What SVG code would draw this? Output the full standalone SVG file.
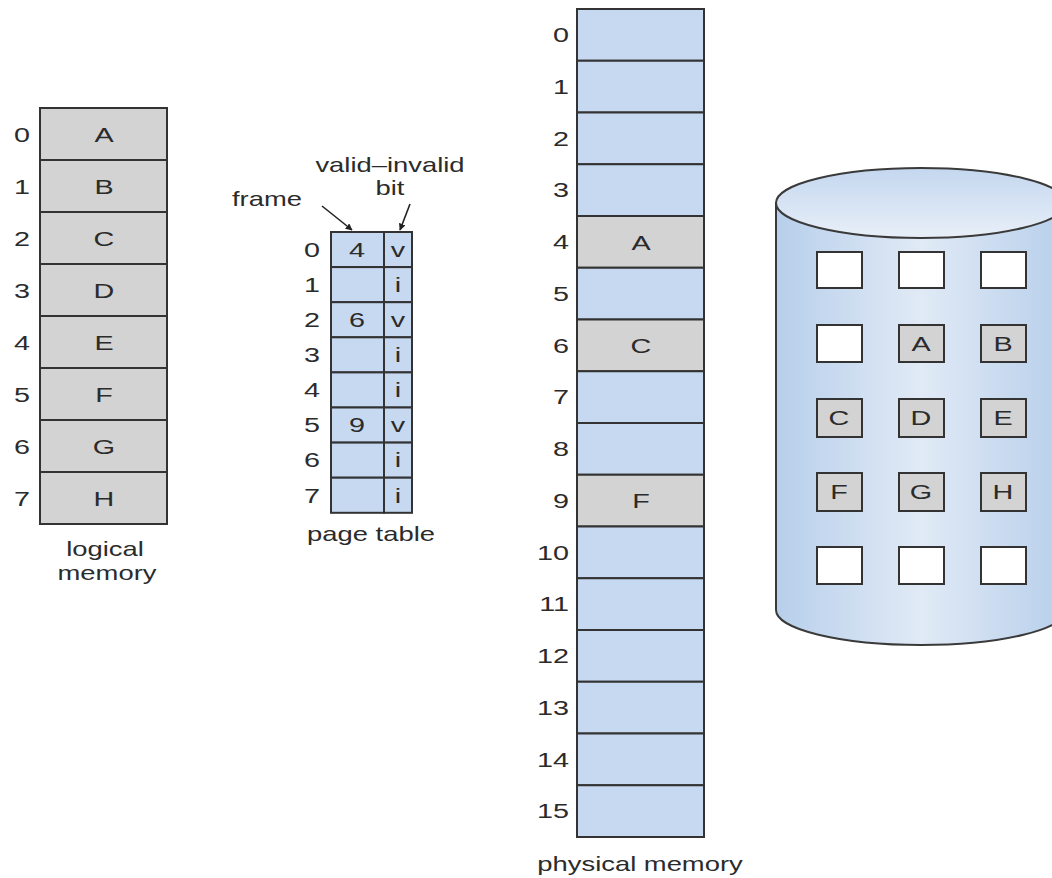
<svg xmlns="http://www.w3.org/2000/svg" width="1052" height="878" viewBox="0 0 1052 878">
<defs>
<style>
text{font-family:"Liberation Sans",Arial,sans-serif;fill:#2b2b2b;}
.lbl{font-size:21px;text-anchor:middle;}
.num{font-size:21px;text-anchor:middle;}
.numr{font-size:21px;text-anchor:end;}
.cap{font-size:20px;text-anchor:middle;}
.g{fill:#d3d3d3;stroke:#333;stroke-width:2;}
.b{fill:#c6d9f0;stroke:#333;stroke-width:2;}
.w{fill:#ffffff;stroke:#333;stroke-width:2;}
.sq{stroke:#333;stroke-width:2;}
.conn{stroke:#222;stroke-width:1.6;fill:none;marker-end:url(#ah);}
</style>
<marker id="ah" viewBox="0 0 10 10" refX="9" refY="5" markerWidth="7" markerHeight="7" orient="auto" markerUnits="userSpaceOnUse">
<path d="M0,0 L10,5 L0,10 Z" fill="#222"/>
</marker>
<linearGradient id="body" x1="0" y1="0" x2="1" y2="0">
<stop offset="0" stop-color="#b7cfeb"/>
<stop offset="0.5" stop-color="#e1eaf6"/>
<stop offset="1" stop-color="#b7cfeb"/>
</linearGradient>
<linearGradient id="top" x1="0" y1="0" x2="0" y2="1">
<stop offset="0" stop-color="#c4d7ef"/>
<stop offset="1" stop-color="#e8eff8"/>
</linearGradient>
</defs>
<rect width="1052" height="878" fill="#ffffff"/>

<g id="logical-memory">
<rect class="g" x="40" y="108" width="127" height="52"/>
<rect class="g" x="40" y="160" width="127" height="52"/>
<rect class="g" x="40" y="212" width="127" height="52"/>
<rect class="g" x="40" y="264" width="127" height="52"/>
<rect class="g" x="40" y="316" width="127" height="52"/>
<rect class="g" x="40" y="368" width="127" height="52"/>
<rect class="g" x="40" y="420" width="127" height="52"/>
<rect class="g" x="40" y="472" width="127" height="52"/>
<text class="lbl" transform="translate(104,142) scale(1.37,1)">A</text>
<text class="lbl" transform="translate(104,194) scale(1.37,1)">B</text>
<text class="lbl" transform="translate(104,246) scale(1.37,1)">C</text>
<text class="lbl" transform="translate(104,298) scale(1.37,1)">D</text>
<text class="lbl" transform="translate(104,350) scale(1.37,1)">E</text>
<text class="lbl" transform="translate(104,402) scale(1.37,1)">F</text>
<text class="lbl" transform="translate(104,454) scale(1.37,1)">G</text>
<text class="lbl" transform="translate(104,506) scale(1.37,1)">H</text>
<text class="num" transform="translate(22,142) scale(1.37,1)">0</text>
<text class="num" transform="translate(22,194) scale(1.37,1)">1</text>
<text class="num" transform="translate(22,246) scale(1.37,1)">2</text>
<text class="num" transform="translate(22,298) scale(1.37,1)">3</text>
<text class="num" transform="translate(22,350) scale(1.37,1)">4</text>
<text class="num" transform="translate(22,402) scale(1.37,1)">5</text>
<text class="num" transform="translate(22,454) scale(1.37,1)">6</text>
<text class="num" transform="translate(22,506) scale(1.37,1)">7</text>
<text class="cap" transform="translate(105,556) scale(1.37,1)">logical</text>
<text class="cap" transform="translate(107,580) scale(1.37,1)">memory</text>
</g>

<g id="page-table">
<rect class="b" x="331" y="232" width="53" height="35.1"/>
<rect class="b" x="384" y="232" width="28" height="35.1"/>
<rect class="b" x="331" y="267.1" width="53" height="35.1"/>
<rect class="b" x="384" y="267.1" width="28" height="35.1"/>
<rect class="b" x="331" y="302.2" width="53" height="35.1"/>
<rect class="b" x="384" y="302.2" width="28" height="35.1"/>
<rect class="b" x="331" y="337.3" width="53" height="35.1"/>
<rect class="b" x="384" y="337.3" width="28" height="35.1"/>
<rect class="b" x="331" y="372.4" width="53" height="35.1"/>
<rect class="b" x="384" y="372.4" width="28" height="35.1"/>
<rect class="b" x="331" y="407.5" width="53" height="35.1"/>
<rect class="b" x="384" y="407.5" width="28" height="35.1"/>
<rect class="b" x="331" y="442.6" width="53" height="35.1"/>
<rect class="b" x="384" y="442.6" width="28" height="35.1"/>
<rect class="b" x="331" y="477.7" width="53" height="35.1"/>
<rect class="b" x="384" y="477.7" width="28" height="35.1"/>
<text class="num" transform="translate(312,257) scale(1.37,1)">0</text>
<text class="num" transform="translate(312,292) scale(1.37,1)">1</text>
<text class="num" transform="translate(312,327) scale(1.37,1)">2</text>
<text class="num" transform="translate(312,362) scale(1.37,1)">3</text>
<text class="num" transform="translate(312,397) scale(1.37,1)">4</text>
<text class="num" transform="translate(312,432) scale(1.37,1)">5</text>
<text class="num" transform="translate(312,467) scale(1.37,1)">6</text>
<text class="num" transform="translate(312,503) scale(1.37,1)">7</text>
<text class="num" transform="translate(357,257) scale(1.37,1)">4</text>
<text class="num" transform="translate(357,327) scale(1.37,1)">6</text>
<text class="num" transform="translate(357,432) scale(1.37,1)">9</text>
<text class="num" transform="translate(398,257) scale(1.37,1)">v</text>
<text class="num" transform="translate(398,292) scale(1.37,1)">i</text>
<text class="num" transform="translate(398,327) scale(1.37,1)">v</text>
<text class="num" transform="translate(398,362) scale(1.37,1)">i</text>
<text class="num" transform="translate(398,397) scale(1.37,1)">i</text>
<text class="num" transform="translate(398,432) scale(1.37,1)">v</text>
<text class="num" transform="translate(398,467) scale(1.37,1)">i</text>
<text class="num" transform="translate(398,503) scale(1.37,1)">i</text>
<text class="cap" transform="translate(371,541) scale(1.37,1)">page table</text>
<text class="cap" transform="translate(267,206) scale(1.37,1)">frame</text>
<text class="cap" transform="translate(390,172) scale(1.37,1)">valid–invalid</text>
<text class="cap" transform="translate(390,195) scale(1.37,1)">bit</text>
</g>

<g id="connectors">
<line class="conn" x1="322" y1="206" x2="352" y2="230"/>
<line class="conn" x1="410" y1="204" x2="400" y2="230"/>
</g>

<g id="physical-memory">
<rect class="b" x="577" y="9" width="127" height="51.75"/>
<rect class="b" x="577" y="60.75" width="127" height="51.75"/>
<rect class="b" x="577" y="112.5" width="127" height="51.75"/>
<rect class="b" x="577" y="164.25" width="127" height="51.75"/>
<rect class="g" x="577" y="216" width="127" height="51.75"/>
<rect class="b" x="577" y="267.75" width="127" height="51.75"/>
<rect class="g" x="577" y="319.5" width="127" height="51.75"/>
<rect class="b" x="577" y="371.25" width="127" height="51.75"/>
<rect class="b" x="577" y="423" width="127" height="51.75"/>
<rect class="g" x="577" y="474.75" width="127" height="51.75"/>
<rect class="b" x="577" y="526.5" width="127" height="51.75"/>
<rect class="b" x="577" y="578.25" width="127" height="51.75"/>
<rect class="b" x="577" y="630" width="127" height="51.75"/>
<rect class="b" x="577" y="681.75" width="127" height="51.75"/>
<rect class="b" x="577" y="733.5" width="127" height="51.75"/>
<rect class="b" x="577" y="785.25" width="127" height="51.75"/>
<text class="lbl" transform="translate(641,250) scale(1.37,1)">A</text>
<text class="lbl" transform="translate(641,353) scale(1.37,1)">C</text>
<text class="lbl" transform="translate(641,508) scale(1.37,1)">F</text>
<text class="numr" transform="translate(569,42) scale(1.37,1)">0</text>
<text class="numr" transform="translate(569,94) scale(1.37,1)">1</text>
<text class="numr" transform="translate(569,146) scale(1.37,1)">2</text>
<text class="numr" transform="translate(569,197) scale(1.37,1)">3</text>
<text class="numr" transform="translate(569,249) scale(1.37,1)">4</text>
<text class="numr" transform="translate(569,301) scale(1.37,1)">5</text>
<text class="numr" transform="translate(569,353) scale(1.37,1)">6</text>
<text class="numr" transform="translate(569,404) scale(1.37,1)">7</text>
<text class="numr" transform="translate(569,456) scale(1.37,1)">8</text>
<text class="numr" transform="translate(569,508) scale(1.37,1)">9</text>
<text class="numr" transform="translate(569,560) scale(1.37,1)">10</text>
<text class="numr" transform="translate(569,611) scale(1.37,1)">11</text>
<text class="numr" transform="translate(569,663) scale(1.37,1)">12</text>
<text class="numr" transform="translate(569,715) scale(1.37,1)">13</text>
<text class="numr" transform="translate(569,767) scale(1.37,1)">14</text>
<text class="numr" transform="translate(569,818) scale(1.37,1)">15</text>
<text class="cap" transform="translate(640,871) scale(1.37,1)">physical memory</text>
</g>

<g id="disk">
<path d="M776,203 L776,610 A145,35 0 0 0 1066,610 L1066,203 Z" fill="url(#body)" stroke="#3a3a3a" stroke-width="2"/>
<ellipse cx="921" cy="203" rx="145" ry="35" fill="url(#top)" stroke="#3a3a3a" stroke-width="2"/>
<rect class="w" x="817" y="252" width="45" height="36"/>
<rect class="w" x="899" y="252" width="45" height="36"/>
<rect class="w" x="981" y="252" width="45" height="36"/>
<rect class="w" x="817" y="325" width="45" height="37"/>
<rect class="g" x="899" y="325" width="45" height="37"/>
<rect class="g" x="981" y="325" width="45" height="37"/>
<rect class="g" x="817" y="399" width="45" height="38"/>
<rect class="g" x="899" y="399" width="45" height="38"/>
<rect class="g" x="981" y="399" width="45" height="38"/>
<rect class="g" x="817" y="473" width="45" height="38"/>
<rect class="g" x="899" y="473" width="45" height="38"/>
<rect class="g" x="981" y="473" width="45" height="38"/>
<rect class="w" x="817" y="547" width="45" height="37"/>
<rect class="w" x="899" y="547" width="45" height="37"/>
<rect class="w" x="981" y="547" width="45" height="37"/>
<text class="lbl" transform="translate(921,351) scale(1.37,1)">A</text>
<text class="lbl" transform="translate(1003,351) scale(1.37,1)">B</text>
<text class="lbl" transform="translate(839,425) scale(1.37,1)">C</text>
<text class="lbl" transform="translate(921,425) scale(1.37,1)">D</text>
<text class="lbl" transform="translate(1003,425) scale(1.37,1)">E</text>
<text class="lbl" transform="translate(839,499) scale(1.37,1)">F</text>
<text class="lbl" transform="translate(921,499) scale(1.37,1)">G</text>
<text class="lbl" transform="translate(1003,499) scale(1.37,1)">H</text>
</g>
</svg>
